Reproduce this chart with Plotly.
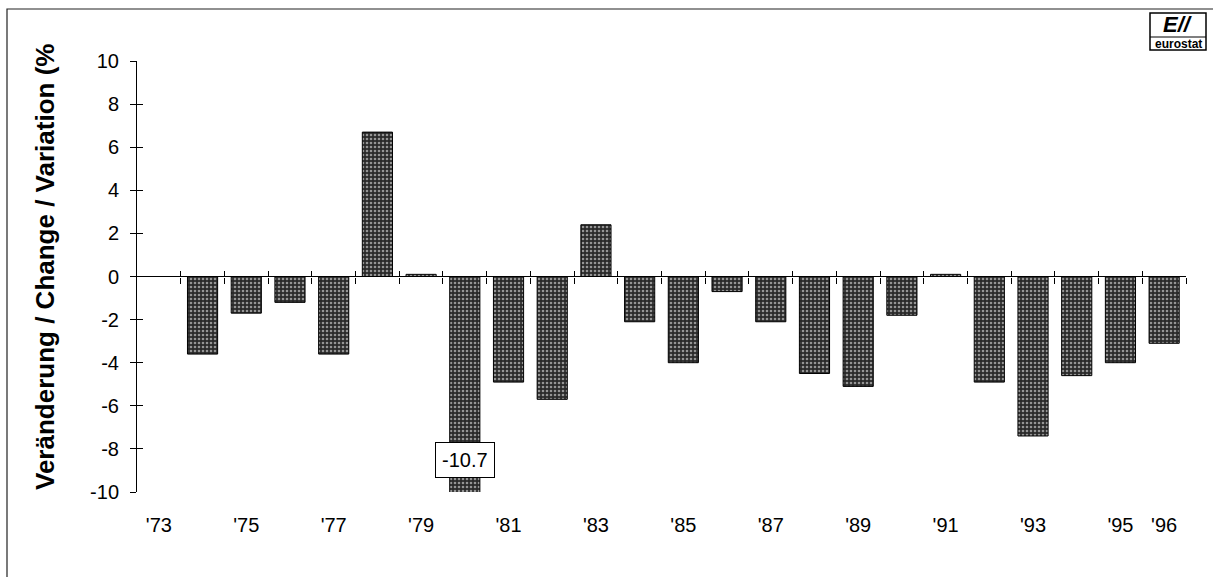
import plotly.graph_objects as go

# Year-on-year change (%), 1973-1996
years = ["'73", "'74", "'75", "'76", "'77", "'78", "'79", "'80", "'81", "'82", "'83", "'84",
         "'85", "'86", "'87", "'88", "'89", "'90", "'91", "'92", "'93", "'94", "'95", "'96"]
change = [None, -3.6, -1.7, -1.2, -3.6, 6.7, 0.1, -10.7, -4.9, -5.7, 2.4, -2.1,
          -4.0, -0.7, -2.1, -4.5, -5.1, -1.8, 0.1, -4.9, -7.4, -4.6, -4.0, -3.1]
year_labels = ["'73", "'75", "'77", "'79", "'81", "'83", "'85", "'87", "'89", "'91", "'93", "'95", "'96"]
y_ticks = [-10, -8, -6, -4, -2, 0, 2, 4, 6, 8, 10]
y_title = "Veränderung / Change / Variation (%"

FONT = "Liberation Sans, Arial, sans-serif"
n = len(years)
boundaries = [i + 0.5 for i in range(n)]

# plot-area geometry in pixels (used to place paper-referenced decorations)
L, R, T, B = 137, 27, 61, 85
W, H = 1213, 577
PW, PH = W - L - R, H - T - B


def px(x):
    return (x - L) / PW


def py(y):
    return (H - B - y) / PH


fig = go.Figure()

fig.add_trace(go.Bar(
    x=years, y=change, width=0.69,
    marker=dict(
        color="#222222",
        line=dict(color="black", width=1),
        pattern=dict(shape=".", size=4, solidity=0.33, fgcolor="#ffffff", bgcolor="#2a2a2a"),
    ),
    hoverinfo="x+y", showlegend=False,
))

# helper traces so the overlay tick axes are drawn
fig.add_trace(go.Scatter(x=[None], y=[None], xaxis="x2", yaxis="y", showlegend=False, hoverinfo="skip"))
fig.add_trace(go.Scatter(x=[None], y=[None], xaxis="x3", yaxis="y", showlegend=False, hoverinfo="skip"))
fig.add_trace(go.Scatter(x=[None], y=[None], xaxis="x", yaxis="y2", showlegend=False, hoverinfo="skip"))

# label for the clipped minimum
i_min = min(range(n), key=lambda i: change[i] if change[i] is not None else 0)
fig.add_annotation(
    x=years[i_min], y=-8.5, text=f"{change[i_min]:.1f}", showarrow=False,
    bgcolor="white", bordercolor="black", borderwidth=1, borderpad=6,
    font=dict(family=FONT, size=20, color="black"),
)

# y-axis title
fig.add_annotation(
    xref="paper", yref="paper", x=px(45), y=py(267), xanchor="center", yanchor="middle",
    text=f"<b>{y_title}</b>", textangle=-90, showarrow=False,
    font=dict(family=FONT, size=26, color="black"),
)

# eurostat logo
fig.add_shape(type="rect", xref="paper", yref="paper", x0=px(1150), x1=px(1206),
              y0=py(50), y1=py(13), line=dict(color="black", width=1.5),
              fillcolor="white", layer="above")
fig.add_shape(type="line", xref="paper", yref="paper", x0=px(1150), x1=px(1206),
              y0=py(37), y1=py(37), line=dict(color="black", width=1), layer="above")
fig.add_annotation(xref="paper", yref="paper", x=px(1178), y=py(25),
                   xanchor="center", yanchor="middle",
                   text="<b><i>E//</i></b>", showarrow=False,
                   font=dict(family=FONT, size=22, color="black"))
fig.add_annotation(xref="paper", yref="paper", x=px(1178), y=py(44),
                   xanchor="center", yanchor="middle",
                   text="<b>eurostat</b>", showarrow=False,
                   font=dict(family=FONT, size=12, color="black"))

# outer frame
fig.add_shape(type="rect", xref="paper", yref="paper",
              x0=px(7), x1=px(1240), y0=py(600), y1=py(9),
              line=dict(color="#222222", width=1.2), fillcolor="rgba(0,0,0,0)")

fig.update_layout(
    width=W, height=H,
    margin=dict(l=L, r=R, t=T, b=B),
    paper_bgcolor="white", plot_bgcolor="white",
    font=dict(family=FONT, size=20, color="black"),
    xaxis=dict(
        showgrid=False, type="category", range=[-0.5, n - 0.5],
        tickmode="array", tickvals=year_labels, ticktext=year_labels,
        ticks="outside", ticklen=15, tickcolor="rgba(0,0,0,0)",
        showline=False, zeroline=False, tickfont=dict(size=20),
    ),
    xaxis2=dict(
        showgrid=False, overlaying="x", anchor="free", position=0.5, side="bottom",
        range=[-0.5, n - 0.5], tickmode="array", tickvals=boundaries,
        ticks="outside", ticklen=6, tickcolor="black", showticklabels=False,
        showline=False, zeroline=False,
    ),
    xaxis3=dict(
        showgrid=False, overlaying="x", anchor="free", position=0.5, side="bottom",
        range=[-0.5, n - 0.5], tickmode="array", tickvals=boundaries,
        ticks="inside", ticklen=6, tickcolor="black", showticklabels=False,
        showline=False, zeroline=False,
    ),
    yaxis=dict(
        showgrid=False, range=[-10, 10], tickmode="array", tickvals=y_ticks,
        ticktext=[str(v) for v in y_ticks],
        ticks="outside", ticklen=6, tickcolor="black", ticklabelstandoff=7,
        showline=True, linecolor="black", linewidth=1,
        zeroline=True, zerolinecolor="black", zerolinewidth=1,
        tickfont=dict(size=20),
    ),
    yaxis2=dict(
        showgrid=False, overlaying="y", anchor="x", side="left", range=[-10, 10],
        tickmode="array", tickvals=y_ticks, ticks="inside", ticklen=6, tickcolor="black",
        showticklabels=False, showline=False, zeroline=False,
    ),
)

fig.write_html("out.html")
